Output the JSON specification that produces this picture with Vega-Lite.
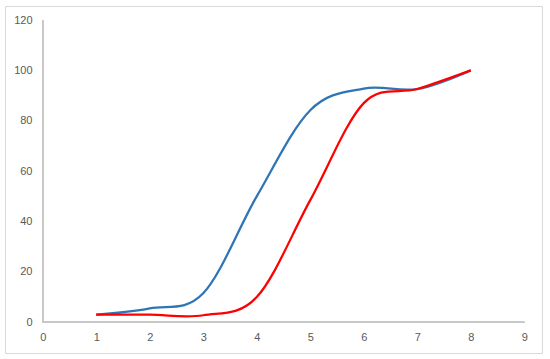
{
  "$schema": "https://vega.github.io/schema/vega-lite/v6.json",
  "autosize": {"type": "none"},
  "padding": {"left": 5, "top": 6, "right": 8, "bottom": 6},
  "width": 537,
  "height": 347,
  "background": "white",
  "config": {
    "view": {"stroke": "#D9D9D9", "strokeWidth": 1},
    "axis": {
      "grid": false,
      "domain": false,
      "ticks": false,
      "tickSize": 0,
      "labelFont": "Liberation Sans",
      "labelFontSize": 11,
      "labelColor": "#595959",
      "title": null
    }
  },
  "data": {
    "values": [
      {"series": "A", "x": 1, "y": 3.0},
      {"series": "A", "x": 2, "y": 5.5},
      {"series": "A", "x": 3, "y": 11.5},
      {"series": "A", "x": 4, "y": 50},
      {"series": "A", "x": 5, "y": 84.2},
      {"series": "A", "x": 6, "y": 92.8},
      {"series": "A", "x": 7, "y": 92.6},
      {"series": "A", "x": 8, "y": 100},
      {"series": "B", "x": 1, "y": 3.0},
      {"series": "B", "x": 2, "y": 3.0},
      {"series": "B", "x": 3, "y": 2.8},
      {"series": "B", "x": 4, "y": 10},
      {"series": "B", "x": 5, "y": 48.5},
      {"series": "B", "x": 6, "y": 87},
      {"series": "B", "x": 7, "y": 92.6},
      {"series": "B", "x": 8, "y": 100}
    ]
  },
  "layer": [
    {
      "mark": {"type": "rule", "color": "#C8C8C8", "strokeWidth": 1},
      "encoding": {
        "x": {"datum": 0, "type": "quantitative"},
        "x2": {"datum": 9},
        "y": {"datum": 0, "type": "quantitative"}
      }
    },
    {
      "mark": {"type": "rule", "color": "#C8C8C8", "strokeWidth": 1},
      "encoding": {
        "x": {"datum": 0, "type": "quantitative"},
        "y": {"datum": 0, "type": "quantitative"},
        "y2": {"datum": 120}
      }
    },
    {
      "transform": [{"filter": "datum.series == 'A'"}],
      "mark": {"type": "line", "interpolate": "cardinal", "tension": 0, "strokeWidth": 2.25, "color": "#2E75B6"},
      "encoding": {
        "x": {"field": "x", "type": "quantitative"},
        "y": {"field": "y", "type": "quantitative"}
      }
    },
    {
      "transform": [{"filter": "datum.series == 'B'"}],
      "mark": {"type": "line", "interpolate": "cardinal", "tension": 0, "strokeWidth": 2.25, "color": "#FF0000"},
      "encoding": {
        "x": {"field": "x", "type": "quantitative"},
        "y": {"field": "y", "type": "quantitative"}
      }
    }
  ],
  "encoding": {
    "x": {
      "type": "quantitative",
      "scale": {"domain": [-0.7045, 9.331], "nice": false, "zero": false},
      "axis": {"values": [0, 1, 2, 3, 4, 5, 6, 7, 8, 9], "offset": -31, "labelPadding": 9, "format": "d"}
    },
    "y": {
      "type": "quantitative",
      "scale": {"domain": [-12.19, 125.56], "nice": false, "zero": false},
      "axis": {"values": [0, 20, 40, 60, 80, 100, 120], "offset": -38, "labelPadding": 11, "format": "d"}
    }
  }
}
